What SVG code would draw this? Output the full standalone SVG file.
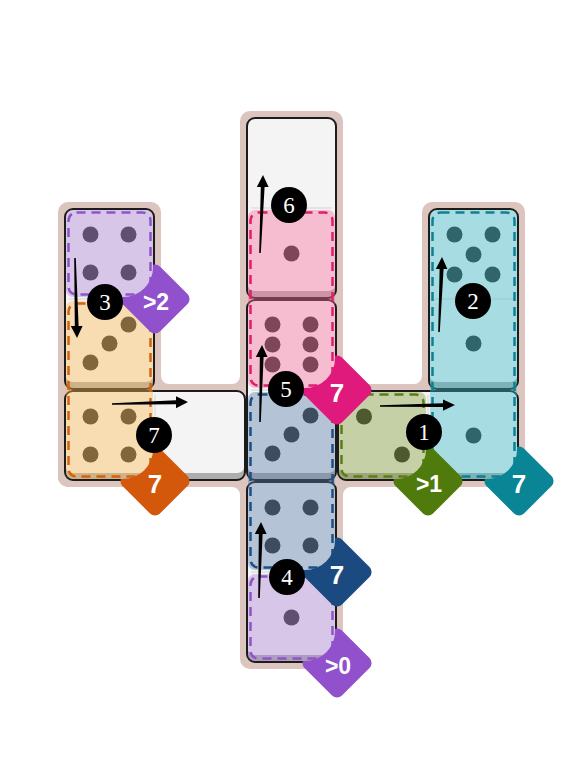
<svg xmlns="http://www.w3.org/2000/svg" width="578" height="784" viewBox="0 0 578 784">
<style>
.board{fill:#dcc5bf}
.dom-base{fill:#adadad}
.dom-face{fill:#f4f4f4}
.dom-edge{fill:none;stroke:#1c1c1c;stroke-width:2}
.divider{stroke:#d4d4d4;stroke-width:1}
.pip{fill:#2e2e2e}
.rf{fill-opacity:0.4}
.dash{fill:none;stroke-width:2.5;stroke-dasharray:9 6}
.lbl{font-family:"Liberation Sans",Arial,sans-serif;font-weight:bold;fill:#ffffff;text-anchor:middle}
.s1{font-size:26px}
.s2{font-size:23px}
.num circle{fill:#000000}
.num text{font-family:"Liberation Serif","Times New Roman",serif;font-size:23px;fill:#ffffff;text-anchor:middle}
.arrow{fill:#000000}
.cPu{fill:#ae81d6}.sPu{stroke:#8e55c9}.dPu{fill:#9150cc}
.cOr{fill:#feb84f}.sOr{stroke:#d4620f}.dOr{fill:#d4580b}
.cPk{fill:#f9689a}.sPk{stroke:#df1f6e}.dPk{fill:#e0197d}
.cNv{fill:#547ca9}.sNv{stroke:#1d4f86}.dNv{fill:#1b4a80}
.cGr{fill:#839c31}.sGr{stroke:#5c7d12}.dGr{fill:#4f7a0c}
.cTl{fill:#38b8ca}.sTl{stroke:#0c8191}.dTl{fill:#0a8595}
</style>
<defs>
<path id="shPuA" d="M73,210 H146 A7,7 0 0 1 153,217 V267 A30,30 0 0 1 123,297 H73 A7,7 0 0 1 66,290 V217 A7,7 0 0 1 73,210 Z"/>
<path id="shOr" d="M73,301 H146 A7,7 0 0 1 153,308 V449 A30,30 0 0 1 123,479 H73 A7,7 0 0 1 66,472 V308 A7,7 0 0 1 73,301 Z"/>
<path id="shPk" d="M255,210 H328 A7,7 0 0 1 335,217 V358 A30,30 0 0 1 305,388 H255 A7,7 0 0 1 248,381 V217 A7,7 0 0 1 255,210 Z"/>
<path id="shNv" d="M255,392 H328 A7,7 0 0 1 335,399 V540 A30,30 0 0 1 305,570 H255 A7,7 0 0 1 248,563 V399 A7,7 0 0 1 255,392 Z"/>
<path id="shPuB" d="M255,574 H328 A7,7 0 0 1 335,581 V631 A30,30 0 0 1 305,661 H255 A7,7 0 0 1 248,654 V581 A7,7 0 0 1 255,574 Z"/>
<path id="shGr" d="M346,392 H419 A7,7 0 0 1 426,399 V449 A30,30 0 0 1 396,479 H346 A7,7 0 0 1 339,472 V399 A7,7 0 0 1 346,392 Z"/>
<path id="shTl" d="M437,210 H510 A7,7 0 0 1 517,217 V449 A30,30 0 0 1 487,479 H437 A7,7 0 0 1 430,472 V217 A7,7 0 0 1 437,210 Z"/>
<mask id="mPuA" maskUnits="userSpaceOnUse" x="0" y="0" width="578" height="784"><rect width="578" height="784" fill="#fff"/><use href="#shPuA" fill="#000"/></mask>
<mask id="mOr" maskUnits="userSpaceOnUse" x="0" y="0" width="578" height="784"><rect width="578" height="784" fill="#fff"/><use href="#shOr" fill="#000"/></mask>
<mask id="mPk" maskUnits="userSpaceOnUse" x="0" y="0" width="578" height="784"><rect width="578" height="784" fill="#fff"/><use href="#shPk" fill="#000"/></mask>
<mask id="mNv" maskUnits="userSpaceOnUse" x="0" y="0" width="578" height="784"><rect width="578" height="784" fill="#fff"/><use href="#shNv" fill="#000"/></mask>
<mask id="mPuB" maskUnits="userSpaceOnUse" x="0" y="0" width="578" height="784"><rect width="578" height="784" fill="#fff"/><use href="#shPuB" fill="#000"/></mask>
<mask id="mGr" maskUnits="userSpaceOnUse" x="0" y="0" width="578" height="784"><rect width="578" height="784" fill="#fff"/><use href="#shGr" fill="#000"/></mask>
<mask id="mTl" maskUnits="userSpaceOnUse" x="0" y="0" width="578" height="784"><rect width="578" height="784" fill="#fff"/><use href="#shTl" fill="#000"/></mask>
</defs>
<rect width="578" height="784" fill="#ffffff"/>
<g id="board">
<rect class="board" x="240" y="111" width="103" height="558" rx="10"/>
<rect class="board" x="58" y="202" width="103" height="285" rx="10"/>
<rect class="board" x="58" y="384" width="467" height="103" rx="10"/>
<rect class="board" x="422" y="202" width="103" height="285" rx="10"/>
<path class="board" d="M161,376 V384 H169 A8,8 0 0 1 161,376 Z"/>
<path class="board" d="M240,376 V384 H232 A8,8 0 0 0 240,376 Z"/>
<path class="board" d="M343,376 V384 H351 A8,8 0 0 1 343,376 Z"/>
<path class="board" d="M422,376 V384 H414 A8,8 0 0 0 422,376 Z"/>
<path class="board" d="M240,495 V487 H232 A8,8 0 0 1 240,495 Z"/>
<path class="board" d="M343,495 V487 H351 A8,8 0 0 0 343,495 Z"/>
</g>
<g id="dominoes">
<g id="domino-A">
<rect class="dom-base" x="247" y="118" width="89" height="180" rx="8"/>
<rect class="dom-face" x="247" y="118" width="89" height="173" rx="8"/>
<line class="divider" x1="251" y1="208" x2="332" y2="208"/>
<circle class="pip" cx="291.5" cy="253.5" r="8"/>
<rect class="dom-edge" x="247" y="118" width="89" height="180" rx="8"/>
</g>
<g id="domino-B">
<rect class="dom-base" x="65" y="209" width="89" height="180" rx="8"/>
<rect class="dom-face" x="65" y="209" width="89" height="173" rx="8"/>
<line class="divider" x1="69" y1="299" x2="150" y2="299"/>
<circle class="pip" cx="90.5" cy="234.5" r="8"/>
<circle class="pip" cx="128.5" cy="234.5" r="8"/>
<circle class="pip" cx="90.5" cy="272.5" r="8"/>
<circle class="pip" cx="128.5" cy="272.5" r="8"/>
<circle class="pip" cx="128.5" cy="324.5" r="8"/>
<circle class="pip" cx="109.5" cy="343.5" r="8"/>
<circle class="pip" cx="90.5" cy="362.5" r="8"/>
<rect class="dom-edge" x="65" y="209" width="89" height="180" rx="8"/>
</g>
<g id="domino-C">
<rect class="dom-base" x="247" y="300" width="89" height="180" rx="8"/>
<rect class="dom-face" x="247" y="300" width="89" height="173" rx="8"/>
<line class="divider" x1="251" y1="390" x2="332" y2="390"/>
<circle class="pip" cx="272.5" cy="324.5" r="8"/>
<circle class="pip" cx="310.5" cy="324.5" r="8"/>
<circle class="pip" cx="272.5" cy="344.5" r="8"/>
<circle class="pip" cx="310.5" cy="344.5" r="8"/>
<circle class="pip" cx="272.5" cy="364.5" r="8"/>
<circle class="pip" cx="310.5" cy="364.5" r="8"/>
<circle class="pip" cx="310.5" cy="415.5" r="8"/>
<circle class="pip" cx="291.5" cy="434.5" r="8"/>
<circle class="pip" cx="272.5" cy="453.5" r="8"/>
<rect class="dom-edge" x="247" y="300" width="89" height="180" rx="8"/>
</g>
<g id="domino-D">
<rect class="dom-base" x="65" y="391" width="180" height="89" rx="8"/>
<rect class="dom-face" x="65" y="391" width="180" height="82" rx="8"/>
<line class="divider" x1="155" y1="395" x2="155" y2="472"/>
<circle class="pip" cx="90.5" cy="416.5" r="8"/>
<circle class="pip" cx="128.5" cy="416.5" r="8"/>
<circle class="pip" cx="90.5" cy="454.5" r="8"/>
<circle class="pip" cx="128.5" cy="454.5" r="8"/>
<rect class="dom-edge" x="65" y="391" width="180" height="89" rx="8"/>
</g>
<g id="domino-E">
<rect class="dom-base" x="338" y="391" width="180" height="89" rx="8"/>
<rect class="dom-face" x="338" y="391" width="180" height="82" rx="8"/>
<line class="divider" x1="428" y1="395" x2="428" y2="472"/>
<circle class="pip" cx="364" cy="416.5" r="8"/>
<circle class="pip" cx="402" cy="454.5" r="8"/>
<circle class="pip" cx="473.5" cy="435.5" r="8"/>
<rect class="dom-edge" x="338" y="391" width="180" height="89" rx="8"/>
</g>
<g id="domino-F">
<rect class="dom-base" x="429" y="209" width="89" height="180" rx="8"/>
<rect class="dom-face" x="429" y="209" width="89" height="173" rx="8"/>
<line class="divider" x1="433" y1="299" x2="514" y2="299"/>
<circle class="pip" cx="454.5" cy="234.5" r="8"/>
<circle class="pip" cx="492.5" cy="234.5" r="8"/>
<circle class="pip" cx="473.5" cy="254.5" r="8"/>
<circle class="pip" cx="454.5" cy="274.5" r="8"/>
<circle class="pip" cx="492.5" cy="274.5" r="8"/>
<circle class="pip" cx="473.5" cy="343.5" r="8"/>
<rect class="dom-edge" x="429" y="209" width="89" height="180" rx="8"/>
</g>
<g id="domino-G">
<rect class="dom-base" x="247" y="482" width="89" height="180" rx="8"/>
<rect class="dom-face" x="247" y="482" width="89" height="173" rx="8"/>
<line class="divider" x1="251" y1="572" x2="332" y2="572"/>
<circle class="pip" cx="272.5" cy="507.5" r="8"/>
<circle class="pip" cx="310.5" cy="507.5" r="8"/>
<circle class="pip" cx="272.5" cy="545.5" r="8"/>
<circle class="pip" cx="310.5" cy="545.5" r="8"/>
<circle class="pip" cx="291.5" cy="617.5" r="8"/>
<rect class="dom-edge" x="247" y="482" width="89" height="180" rx="8"/>
</g>
</g>
<g id="regions">
<g id="region-purple-a"><use href="#shPuA" class="rf cPu"/><rect class="dash sPu" x="68.5" y="212.5" width="82" height="82" rx="8"/></g>
<g id="region-orange"><use href="#shOr" class="rf cOr"/><rect class="dash sOr" x="68.5" y="303.5" width="82" height="173" rx="8"/></g>
<g id="region-pink"><use href="#shPk" class="rf cPk"/><rect class="dash sPk" x="250.5" y="212.5" width="82" height="173" rx="8"/></g>
<g id="region-navy"><use href="#shNv" class="rf cNv"/><rect class="dash sNv" x="250.5" y="394.5" width="82" height="173" rx="8"/></g>
<g id="region-purple-b"><use href="#shPuB" class="rf cPu"/><rect class="dash sPu" x="250.5" y="576.5" width="82" height="82" rx="8"/></g>
<g id="region-green"><use href="#shGr" class="rf cGr"/><rect class="dash sGr" x="341.5" y="394.5" width="82" height="82" rx="8"/></g>
<g id="region-teal"><use href="#shTl" class="rf cTl"/><rect class="dash sTl" x="432.5" y="212.5" width="82" height="264" rx="8"/></g>
</g>
<g id="labels">
<g id="label-purple-a"><g mask="url(#mPuA)"><rect class="dPu" x="-26.5" y="-26.5" width="53" height="53" rx="7" transform="translate(155 299) rotate(45)"/></g><text class="lbl s2" x="156" y="310">&gt;2</text></g>
<g id="label-orange"><g mask="url(#mOr)"><rect class="dOr" x="-26.5" y="-26.5" width="53" height="53" rx="7" transform="translate(155 481) rotate(45)"/></g><text class="lbl s1" x="155" y="493">7</text></g>
<g id="label-pink"><g mask="url(#mPk)"><rect class="dPk" x="-26.5" y="-26.5" width="53" height="53" rx="7" transform="translate(337 390) rotate(45)"/></g><text class="lbl s1" x="337" y="402">7</text></g>
<g id="label-navy"><g mask="url(#mNv)"><rect class="dNv" x="-26.5" y="-26.5" width="53" height="53" rx="7" transform="translate(337 572) rotate(45)"/></g><text class="lbl s1" x="337" y="584">7</text></g>
<g id="label-purple-b"><g mask="url(#mPuB)"><rect class="dPu" x="-26.5" y="-26.5" width="53" height="53" rx="7" transform="translate(337 663) rotate(45)"/></g><text class="lbl s2" x="338" y="674">&gt;0</text></g>
<g id="label-green"><g mask="url(#mGr)"><rect class="dGr" x="-26.5" y="-26.5" width="53" height="53" rx="7" transform="translate(428 481) rotate(45)"/></g><text class="lbl s2" x="429" y="492">&gt;1</text></g>
<g id="label-teal"><g mask="url(#mTl)"><rect class="dTl" x="-26.5" y="-26.5" width="53" height="53" rx="7" transform="translate(519 481) rotate(45)"/></g><text class="lbl s1" x="519" y="493">7</text></g>
</g>
<g id="connectors">
<path class="arrow" d="M380,405.2 L380,406.8 L443,407 L443,410.8 L455,405 L443,399.4 L443,403.2 Z"/>
<path class="arrow" d="M438.2,332 L439.8,332 L443.6,269 L447.4,269 L442,257 L435.8,269 L439.6,269 Z"/>
<path class="arrow" d="M74.2,258 L75.8,258 L78.6,326 L82.6,326 L77,338 L70.8,326 L74.8,326 Z"/>
<path class="arrow" d="M258.2,598 L259.8,598 L262.6,534 L266.6,534 L261,522 L254.8,534 L258.8,534 Z"/>
<path class="arrow" d="M259.2,422 L260.8,422 L263.6,357 L267.6,357 L262,345 L255.8,357 L259.8,357 Z"/>
<path class="arrow" d="M259.2,253 L260.8,253 L264.6,187 L268.6,187 L263,175 L256.8,187 L260.8,187 Z"/>
<path class="arrow" d="M112,403.2 L112,404.8 L176,404.2 L176,408.2 L188,402 L176,396.3 L176,400.3 Z"/>
</g>
<g id="steps">
<g id="step-1" class="num"><circle cx="424" cy="432" r="18"/><text x="424" y="440">1</text></g>
<g id="step-2" class="num"><circle cx="473" cy="301" r="18"/><text x="473" y="309">2</text></g>
<g id="step-3" class="num"><circle cx="105" cy="302" r="18"/><text x="105" y="310">3</text></g>
<g id="step-4" class="num"><circle cx="287" cy="577" r="18"/><text x="287" y="585">4</text></g>
<g id="step-5" class="num"><circle cx="286" cy="389" r="18"/><text x="286" y="397">5</text></g>
<g id="step-6" class="num"><circle cx="289" cy="205" r="18"/><text x="289" y="213">6</text></g>
<g id="step-7" class="num"><circle cx="154" cy="435" r="18"/><text x="154" y="443">7</text></g>
</g>
</svg>
